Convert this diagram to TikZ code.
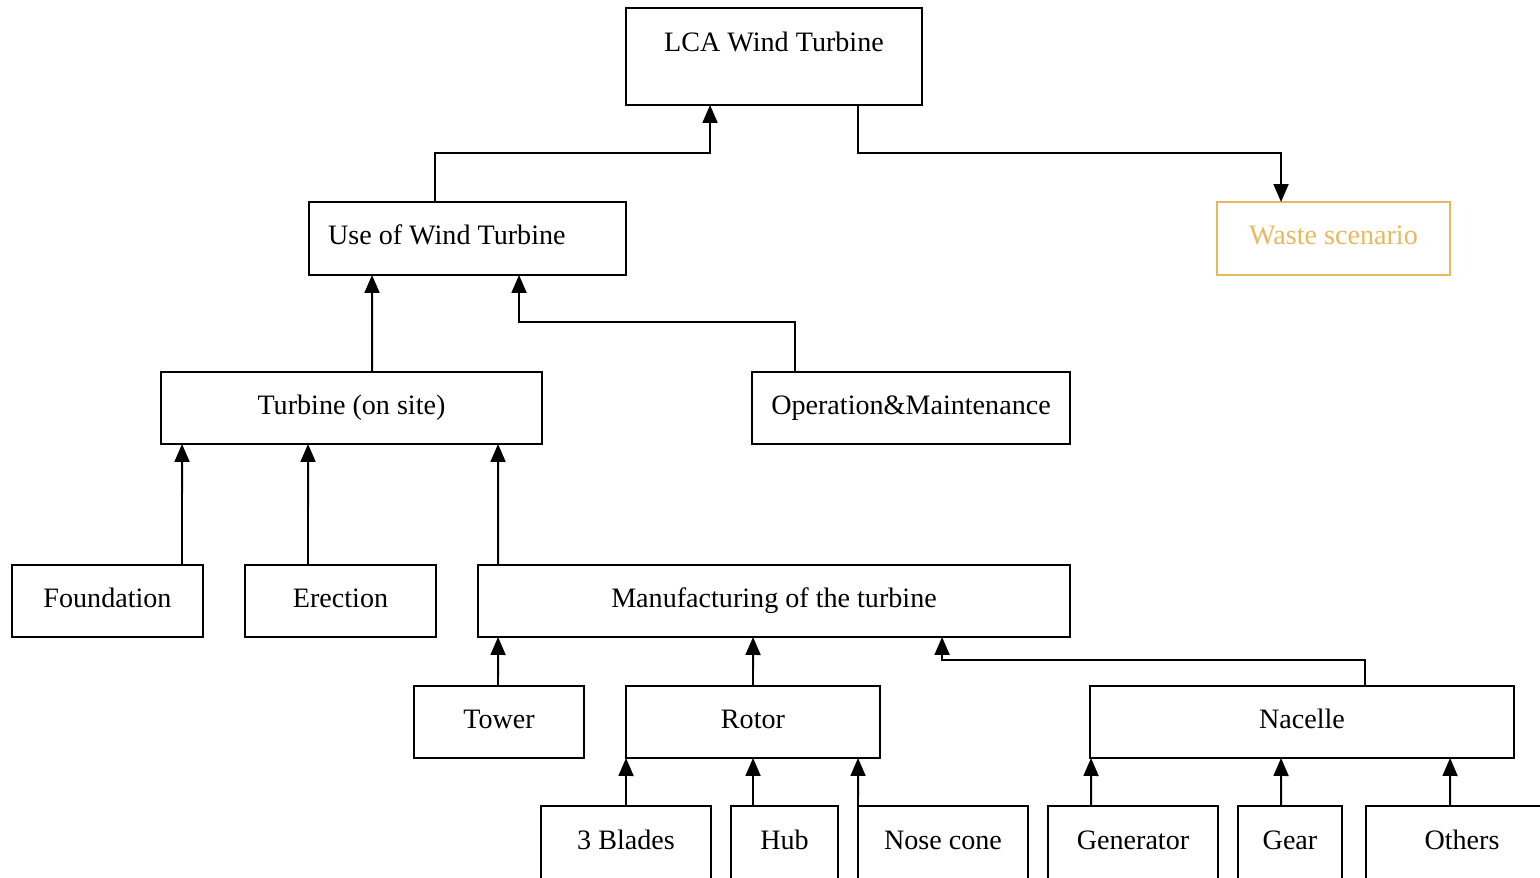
\documentclass[tikz,border=0pt]{standalone}
\usepackage{fontspec}
\setmainfont{Liberation Serif}
\usepackage{xcolor}
\usetikzlibrary{positioning, arrows.meta, calc}

\definecolor{wastecol}{RGB}{232,184,96}

\begin{document}
\begin{tikzpicture}[
    x=0.02cm, y=-0.02cm,
    every node/.style={font=\fontsize{16}{19}\selectfont},
    box/.style={rectangle, draw, line width=1.1pt, inner sep=0pt, outer sep=0pt, align=center, text height=0.7em, text depth=0pt, minimum height=1.44cm},
    leaf/.style={box, minimum height=1.6cm, text depth=0.11cm},
    waste/.style={box, draw=wastecol, text=wastecol},
    arr/.style={-{Triangle[length=0.36cm, width=0.3cm]}, line width=1.1pt},
]
\clip (0,0) rectangle (1540,878);

% ---------- top ----------
\node[box, minimum width=5.92cm, minimum height=1.94cm, text depth=0.43cm] (lca) at (774,56.5) {LCA Wind Turbine};
\node[box, minimum height=1.46cm, align=flush left, text width=5.58cm, inner xsep=0.38cm] (use) at (467.5,238.5) {Use of Wind Turbine};
\node[waste, minimum width=4.66cm, minimum height=1.46cm] (wst) at (1333.5,238.5) {Waste scenario};

% ---------- turbine / operation ----------
\node[box, minimum width=7.62cm] (turb) at (351.5,408) {Turbine (on site)};
\node[box, minimum width=6.36cm] (om) at (911,408) {Operation\&Maintenance};

% ---------- site work and manufacturing ----------
\node[box, minimum width=3.82cm] (found) at (107.5,601) {Foundation};
\node[box, minimum width=3.82cm] (erec) at (340.5,601) {Erection};
\node[box, minimum width=11.84cm] (manu) at (774,601) {Manufacturing of the turbine};

% ---------- main parts ----------
\node[box, minimum width=3.4cm] (tower) at (499,722) {Tower};
\node[box, minimum width=5.08cm] (rotor) at (753,722) {Rotor};
\node[box, minimum width=8.48cm] (nac) at (1302,722) {Nacelle};

% ---------- components (bottom row) ----------
\node[leaf, minimum width=3.4cm] (blades) at (626,846) {3 Blades};
\node[leaf, minimum width=2.14cm] (hub) at (784.5,846) {Hub};
\node[leaf, minimum width=3.4cm] (nose) at (943,846) {Nose cone};
\node[leaf, minimum width=3.4cm] (gen) at (1133,846) {Generator};
\node[leaf, minimum width=2.08cm] (gear) at (1290,846) {Gear};
\node[leaf, minimum width=3.84cm] (oth) at (1462,846) {Others};

% ---------- connectors ----------
\draw[arr] ($(use.north west)+(126,0)$) -- ++(0,-49) -| ($(lca.south west)+(84,0)$);
\draw[arr] ($(lca.south west)+(232,0)$) -- ++(0,48) -| ($(wst.north west)+(64,0)$);

\draw[arr] ($(turb.north west)+(211,0)$) -- ($(use.south west)+(63,0)$);
\draw[arr] ($(om.north west)+(43,0)$) -- ++(0,-50) -| ($(use.south west)+(210,0)$);

\draw[arr] ($(found.north west)+(170,0)$) -- ($(turb.south west)+(21,0)$);
\draw[arr] ($(erec.north west)+(63,0)$) -- ($(turb.south west)+(147,0)$);
\draw[arr] ($(manu.north west)+(20,0)$) -- ($(turb.south west)+(337,0)$);

\draw[arr] ($(tower.north west)+(84,0)$) -- ($(manu.south west)+(20,0)$);
\draw[arr] (rotor.north) -- ($(manu.south west)+(275,0)$);
\draw[arr] ($(nac.north west)+(275,0)$) -- ++(0,-26) -| ($(manu.south west)+(464,0)$);

\draw[arr] (blades.north) -- (rotor.south west);
\draw[arr] ($(hub.north west)+(22,0)$) -- ($(rotor.south west)+(127,0)$);
\draw[arr] (nose.north west) -- ($(rotor.south west)+(232,0)$);

\draw[arr] ($(gen.north west)+(43,0)$) -- ($(nac.south west)+(1,0)$);
\draw[arr] ($(gear.north west)+(43,0)$) -- ($(nac.south west)+(191,0)$);
\draw[arr] ($(oth.north west)+(84,0)$) -- ($(nac.south west)+(360,0)$);

\end{tikzpicture}
\end{document}
